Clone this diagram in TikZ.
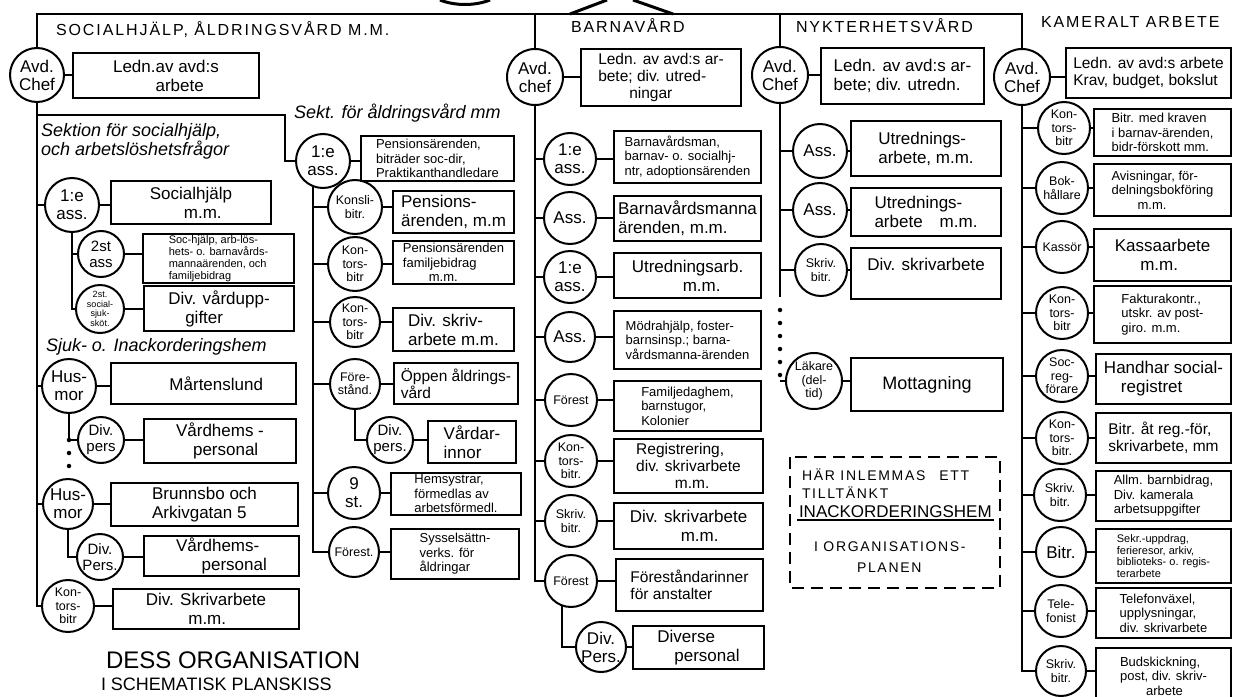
\documentclass[tikz,border=0pt]{standalone}
\usepackage{fontspec}
\setmainfont{Liberation Sans}
\newfontfamily\rubrik[LetterSpace=12]{Liberation Sans}
\usetikzlibrary{calc}

\tikzset{
    roll/.style = {circle, draw, minimum size=52pt, inner sep=0pt, align=center,
        font=\fontsize{17}{18}\selectfont},
    small/.style = {minimum size=46pt, font=\fontsize{15}{16}\selectfont},
    tre/.style = {font=\fontsize{12.5}{13.5}\selectfont},
    fyra/.style = {font=\fontsize{9}{9.5}\selectfont},
    ruta/.style = {draw, anchor=north west, inner sep=2pt, align=left,
        font=\fontsize{17}{19}\selectfont},
    mellan/.style = {font=\fontsize{15.5}{17}\selectfont},
    liten/.style = {font=\fontsize{13}{14.5}\selectfont},
    mini/.style = {font=\fontsize{11}{11.7}\selectfont},
    wh/.style 2 args = {minimum width=#1pt, minimum height=#2pt},
    prickar/.style = {line width=4.5pt, line cap=round, dash pattern=on 0pt off 13pt},
    rubriken/.style = {anchor=west, inner sep=0pt, font=\rubrik\fontsize{16}{18}\selectfont},
    kursiv/.style = {anchor=west, inner sep=0pt, align=left, font=\itshape\fontsize{18}{18}\selectfont},
    plan/.style = {anchor=west, inner sep=1pt, font=\rubrik\fontsize{14}{15}\selectfont},
}

\newcommand{\tjanst}[7][]{%
    % #1 = extra stil for cirkeln
    % #2 = namn
    % #3 = cirkelns mitt
    % #4 = text i cirkeln
    % #5 = stil for rutan
    % #6 = rutans hörn uppe till vänster
    % #7 = text i rutan
    \node[roll, #1] (#2) at (#3) {#4};
    \node[ruta, #5] (#2r) at (#6) {#7};
    \draw (#2) -- (#2 -| #2r.west);
}

\begin{document}
\begin{tikzpicture}[x=1pt, y=-1pt, line width=2pt]

    \useasboundingbox (0,0) rectangle (1242,696);

    \coordinate (topp) at (0,14);

    % bit of the emblem above
    \draw[line width=3pt] (440,0) .. controls (455,6) and (475,6) .. (490,0);
    \draw[line width=3pt] (570,14) -- (607,0);
    \draw[line width=3pt] (673,14) -- (633,0);

    \node[rubriken] (t1) at (55,30) {SOCIALHJÄLP, ÅLDRINGSVÅRD M.M.};
    \node[rubriken] (t2) at (570,26) {BARNAVÅRD};
    \node[rubriken] (t3) at (795,26) {NYKTERHETSVÅRD};
    \node[rubriken] (t4) at (1040,22) {KAMERALT ARBETE};

    %
    % socialhjälp
    %

    \tjanst[minimum size=54pt]{schef}{37,75}{Avd.\\Chef}{wh={186}{45}}{72,52}{Ledn.av avd:s\\\hspace*{2.5em}arbete}

    \node[kursiv] (k1) at (40,141) {Sektion för socialhjälp,\\och arbetslöshetsfrågor};

    \tjanst[minimum size=54pt]{sa1}{72,205}{1:e\\ass.}{wh={160}{43}}{110,180}{Socialhjälp\\\hspace*{2em}m.m.}

    \tjanst[small]{sa2}{101,254}{2st\\ass}{wh={151}{49}, mini}{142,233}{Soc-hjälp, arb-lös-\\hets- o. barnavårds-\\mannaärenden, och\\familjebidrag}

    \tjanst[minimum size=48pt, fyra]{sa3}{100,309}{2st.\\social-\\sjuk-\\sköt.}{wh={150}{45}}{143,285}{Div. vårdupp-\\\hspace*{1em}gifter}

    \node[kursiv] (k2) at (45,347) {Sjuk- o. Inackorderingshem};

    \tjanst[minimum size=54pt]{sh1}{69,386}{Hus-\\mor}{wh={185}{41}}{110,362}{\hspace*{1.5em}Mårtenslund}

    \tjanst[small]{sh1p}{101,440}{Div.\\pers}{wh={152}{44}}{143,418}{Vårdhems -\\\hspace*{1em}personal}

    \tjanst[minimum size=50pt]{sh2}{68,504}{Hus-\\mor}{wh={187}{43}}{110,482}{Brunnsbo och\\Arkivgatan 5}

    \tjanst[small]{sh2p}{100,557}{Div.\\Pers.}{wh={155}{40}}{143,535}{Vårdhems-\\\hspace*{1.5em}personal}

    \tjanst[tre]{skb}{68,606}{Kon-\\tors-\\bitr}{wh={186}{40}}{112,588}{Div. Skrivarbete\\\hspace*{2.5em}m.m.}

    \draw (schef) -- (schef |- skb) -- (skb);
    \foreach \n in {sa1,sh1,sh2}
        \draw (schef |- \n) -- (\n);

    \draw (sa1) -- (sa1 |- sa3) -- (sa3);
    \draw (sa1 |- sa2) -- (sa2);

    \coordinate (prick) at (69,474);
    \draw (sh1) |- (sh1p);
    \draw[prickar] (sh1 |- sh1p) -- (prick);
    \draw (sh2) |- (sh2p);

    %
    % åldringsvård
    %

    \node[kursiv] (k3) at (293,113) {Sekt. för åldringsvård mm};

    \tjanst[minimum size=54pt]{aa1}{323,161}{1:e\\ass.}{wh={153}{45}, liten}{360,135}{Pensionsärenden,\\biträder soc-dir,\\Praktikanthandledare}

    \tjanst[tre, minimum size=54pt]{aa2}{355,207}{Konsli-\\bitr.}{wh={121}{42}}{392,190}{Pensions-\\ärenden, m.m}

    \tjanst[tre, minimum size=54pt]{aa3}{355,264}{Kon-\\tors-\\bitr}{wh={121}{43}, liten}{392,240}{Pensionsärenden\\familjebidrag\\\hspace*{2em}m.m.}

    \tjanst[tre, minimum size=50pt]{aa4}{355,322}{Kon-\\tors-\\bitr}{wh={121}{43}}{392,307}{Div. skriv-\\arbete m.m.}

    \tjanst[tre, minimum size=50pt]{aa5}{355,384}{Före-\\stånd.}{wh={124}{41}, mellan}{393,362}{Öppen åldrings-\\vård}

    \tjanst[small]{aa5p}{390,440}{Div.\\pers.}{wh={88}{42}}{427,420}{Vårdar-\\innor}

    \tjanst{aa6}{354,493}{9\\st.}{wh={130}{41}, liten}{390,472}{Hemsystrar,\\förmedlas av\\arbetsförmedl.}

    \tjanst[tre, minimum size=50pt]{aa7}{354,552}{Förest.}{wh={128}{50}, liten}{390,528}{Sysselsättn-\\verks. för\\åldringar}

    \draw (aa1.250) -- (aa1.250 |- aa7) -- (aa7);
    \foreach \n in {aa2,aa3,aa4,aa5,aa6}
        \draw (aa1.250 |- \n) -- (\n);
    \draw (aa5) |- (aa5p);

    \coordinate (gren) at (285,115);
    \draw (schef |- gren) -- (gren) |- (aa1);

    %
    % barnavård
    %

    \tjanst[minimum size=56pt]{bchef}{535,77}{Avd.\\chef}{wh={160}{57}, mellan}{580,48}{Ledn. av avd:s ar-\\bete; div. utred-\\\hspace*{2em}ningar}

    \tjanst{b1}{570,159}{1:e\\ass.}{wh={147}{52}, liten}{613,130}{Barnavårdsman,\\barnav- o. socialhj-\\ntr, adoptionsärenden}

    \tjanst{b2}{570,218}{Ass.}{wh={147}{45}}{613,195}{Barnavårdsmanna\\ärenden, m.m.}

    \tjanst{b3}{570,277}{1:e\\ass.}{wh={147}{45}}{613,252}{Utredningsarb.\\\hspace*{3em}m.m.}

    \tjanst[minimum size=50pt]{b4}{570,337}{Ass.}{wh={147}{58}, liten}{613,310}{Mödrahjälp, foster-\\barnsinsp.; barna-\\vårdsmanna-ärenden}

    \tjanst[tre]{b5}{571,400}{Förest}{wh={147}{50}, liten}{613,380}{Familjedaghem,\\barnstugor,\\Kolonier}

    \tjanst[tre]{b6}{571,461}{Kon-\\tors-\\bitr.}{wh={149}{54}, mellan}{613,438}{Registrering,\\div. skrivarbete\\\hspace*{2.5em}m.m.}

    \tjanst[tre]{b7}{571,521}{Skriv.\\bitr.}{wh={149}{46}}{613,502}{Div. skrivarbete\\\hspace*{3em}m.m.}

    \tjanst[tre]{b8}{571,581}{Förest}{wh={147}{52}, mellan}{615,558}{Föreståndarinner\\för anstalter}

    \tjanst[minimum size=50pt]{b8p}{601,647}{Div.\\Pers.}{wh={131}{43}}{632,625}{Diverse\\\hspace*{1em}personal}

    \draw (bchef) -- (bchef |- b8) -- (b8);
    \foreach \n in {b1,b2,b3,b4,b5,b6,b7}
        \draw (bchef |- \n) -- (\n);
    \draw (b8.250) |- (b8p);

    %
    % nykterhetsvård
    %

    \tjanst[minimum size=56pt]{nchef}{780,75}{Avd.\\Chef}{wh={163}{56}}{820,47}{Ledn. av avd:s ar-\\bete; div. utredn.}

    \tjanst[minimum size=54pt]{n1}{820,151}{Ass.}{wh={150}{55}}{850,120}{Utrednings-\\arbete, m.m.}

    \tjanst[minimum size=54pt]{n2}{820,210}{Ass.}{wh={150}{48}}{850,187}{Utrednings-\\arbete\quad m.m.}

    \tjanst[tre]{n3}{821,270}{Skriv.\\bitr.}{wh={150}{51}}{850,247}{Div. skrivarbete\\\mbox{}}

    \tjanst[tre, minimum size=56pt]{n4}{814,381}{Läkare\\(del-\\tid)}{wh={152}{53}, font=\fontsize{18}{20}\selectfont}{850,357}{Mottagning}

    \coordinate (nslut) at (780,297);
    \draw (nchef) -- (nslut);
    \foreach \n in {n1,n2,n3}
        \draw (nchef |- \n) -- (\n);
    \draw[prickar] (nslut) ++(0,13) -- (nchef |- n4);
    \draw (nchef |- n4) -- (n4);

    \draw[dash pattern=on 12pt off 7pt] (790,457) rectangle (1000,588);
    \node[plan] (p1) at (800,475) {HÄR INLEMMAS\quad ETT};
    \node[plan] (p2) at (800,493) {TILLTÄNKT};
    \node[plan, font=\fontsize{17}{18}\selectfont] (p3) at (797,512) {INACKORDERINGSHEM};
    \draw[line width=2.4pt] (p3.south west) -- (p3.south east);
    \node[plan] (p4) at (812,547) {I ORGANISATIONS-};
    \node[plan] (p5) at (855,568) {PLANEN};

    %
    % kameralt arbete
    %

    \tjanst[minimum size=56pt]{kchef}{1022,77}{Avd.\\Chef}{wh={165}{50}, mellan}{1065,47}{Ledn. av avd:s arbete\\Krav, budget, bokslut}

    \tjanst[tre]{k1}{1064,128}{Kon-\\tors-\\bitr}{wh={137}{47}, liten}{1093,108}{Bitr. med kraven\\i barnav-ärenden,\\bidr-förskott mm.}

    \tjanst[tre]{k2}{1062,188}{Bok-\\hållare}{wh={137}{52}, liten}{1093,163}{Avisningar, för-\\delningsbokföring\\\hspace*{2em}m.m.}

    \tjanst[tre]{k3}{1062,247}{Kassör}{wh={137}{52}}{1093,228}{Kassaarbete\\\hspace*{1.5em}m.m.}

    \tjanst[tre]{k4}{1062,313}{Kon-\\tors-\\bitr}{wh={137}{57}, liten}{1093,285}{Fakturakontr.,\\utskr. av post-\\giro. m.m.}

    \tjanst[tre]{k5}{1062,376}{Soc-\\reg-\\förare}{wh={135}{50}}{1095,353}{Handhar social-\\\hspace*{1em}registret}

    \tjanst[tre]{k6}{1062,438}{Kon-\\tors-\\bitr.}{wh={135}{50}, mellan}{1095,412}{Bitr. åt reg.-för,\\skrivarbete, mm}

    \tjanst[tre]{k7}{1060,495}{Skriv.\\bitr.}{wh={135}{50}, liten}{1095,470}{Allm. barnbidrag,\\Div. kamerala\\arbetsuppgifter}

    \tjanst[minimum size=50pt]{k8}{1061,552}{Bitr.}{wh={135}{54}, mini}{1095,528}{Sekr.-uppdrag,\\ferieresor, arkiv,\\biblioteks- o. regis-\\terarbete}

    \tjanst[tre]{k9}{1061,611}{Tele-\\fonist}{wh={135}{50}, liten}{1095,587}{Telefonväxel,\\upplysningar,\\div. skrivarbete}

    \tjanst[tre, minimum size=50pt]{k10}{1061,671}{Skriv.\\bitr.}{wh={135}{56}, liten}{1095,647}{Budskickning,\\post, div. skriv-\\\hspace*{2em}arbete}

    \draw (kchef) -- (kchef |- k10) -- (k10);
    \foreach \n in {k1,k2,k3,k4,k5,k6,k7,k8,k9}
        \draw (kchef |- \n) -- (\n);

    % the line along the top
    \draw (schef) -- (schef |- topp) -- (kchef |- topp) -- (kchef);
    \draw (bchef) -- (bchef |- topp);
    \draw (nchef) -- (nchef |- topp);

    %
    % underst
    %

    \node[anchor=west, inner sep=0pt, font=\fontsize{24}{26}\selectfont] (d1) at (105,660) {DESS ORGANISATION};
    \node[anchor=west, inner sep=0pt, font=\fontsize{18}{19}\selectfont] (d2) at (100,684) {I SCHEMATISK PLANSKISS};

\end{tikzpicture}
\end{document}
